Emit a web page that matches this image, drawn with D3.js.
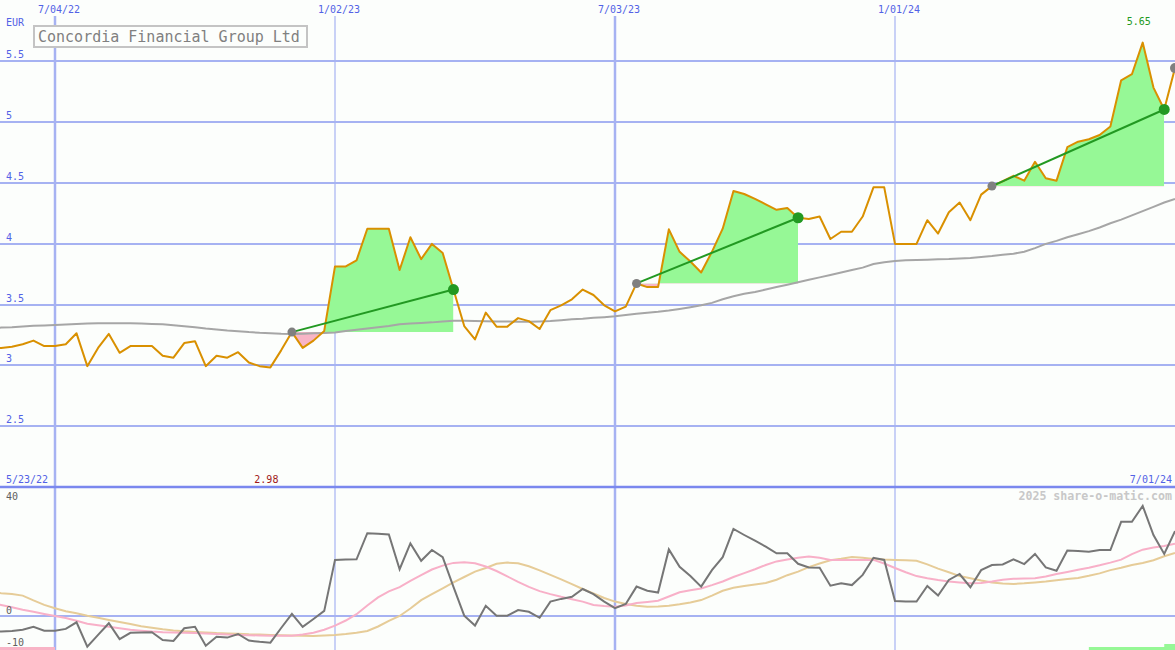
<!DOCTYPE html>
<html><head><meta charset="utf-8">
<script src="https://cdn.jsdelivr.net/npm/d3@7"></script>
<style>
html,body{margin:0;padding:0;background:#fcfefc;overflow:hidden;}
svg{display:block;}
text{font-family:"DejaVu Sans Mono","Liberation Mono",monospace;}
</style></head><body>
<svg id="chart" width="1175" height="650"></svg>
<script>
// ---------- data ----------
const title = "Concordia Financial Group Ltd";
const currency = "EUR";
const firstWeek = "2022-05-23";
const lastWeek = "2024-07-01";
const price = [3.14,3.14,3.15,3.17,3.20,3.155,3.155,3.17,3.26,2.99,
  3.14,3.255,3.10,3.155,3.155,3.155,3.075,3.06,3.18,3.195,
  2.99,3.075,3.06,3.105,3.02,2.99,2.98,3.12,3.27,3.14,
  3.20,3.28,3.81,3.81,3.86,4.12,4.12,4.12,3.78,4.05,
  3.87,3.995,3.92,3.62,3.32,3.21,3.43,3.315,3.315,3.385,
  3.36,3.295,3.45,3.49,3.54,3.62,3.575,3.49,3.44,3.48,
  3.67,3.64,3.64,4.115,3.93,3.85,3.76,3.93,4.12,4.43,
  4.405,4.365,4.32,4.275,4.29,4.21,4.20,4.22,4.035,4.095,
  4.095,4.22,4.46,4.46,3.995,3.995,3.995,4.19,4.08,4.255,
  4.335,4.19,4.40,4.47,4.51,4.555,4.515,4.67,4.535,4.515,
  4.79,4.835,4.855,4.89,4.96,5.34,5.39,5.65,5.28,5.10,5.44];
const movingAvg = [3.305,3.307,3.31,3.316,3.322,3.325,3.328,3.332,3.336,3.34,
  3.342,3.343,3.343,3.342,3.34,3.337,3.334,3.327,3.318,3.31,
  3.30,3.292,3.284,3.278,3.27,3.264,3.26,3.256,3.255,3.257,
  3.26,3.263,3.267,3.28,3.29,3.30,3.31,3.32,3.335,3.34,
  3.345,3.35,3.357,3.363,3.363,3.362,3.36,3.358,3.357,3.356,
  3.355,3.358,3.362,3.368,3.375,3.38,3.387,3.393,3.40,3.41,
  3.42,3.43,3.437,3.447,3.46,3.475,3.49,3.51,3.54,3.565,
  3.585,3.60,3.62,3.64,3.66,3.68,3.70,3.72,3.74,3.76,
  3.78,3.80,3.83,3.845,3.855,3.86,3.862,3.865,3.868,3.87,
  3.875,3.88,3.888,3.895,3.905,3.915,3.93,3.96,3.995,4.02,
  4.05,4.075,4.10,4.13,4.165,4.195,4.23,4.265,4.30,4.335,4.365];
const oscDark = [-5.2,-5.2,-5.0,-4.6,-3.6,-4.9,-4.9,-4.3,-2.1,-10.2,
  -6.3,-2.4,-7.7,-5.6,-5.5,-5.4,-8.0,-8.3,-4.1,-3.6,
  -9.9,-6.9,-7.2,-6.0,-8.2,-8.6,-8.9,-4.0,0.7,-3.6,
  -1.0,1.7,18.7,18.8,18.9,27.6,27.4,27.2,15.6,24.2,
  18.4,22.0,19.6,9.7,0.1,-3.2,3.4,0.1,0.1,2.0,
  1.4,-0.6,4.8,5.7,6.4,9.0,7.3,4.8,2.6,4.0,
  9.8,8.4,7.8,22.2,16.4,13.3,9.8,15.3,19.6,29.0,
  27.0,25.1,23.1,20.9,20.9,17.4,16.2,16.1,10.1,10.9,
  10.3,13.7,19.4,18.7,5.0,4.8,4.8,10.0,6.8,12.0,
  14.0,9.6,15.3,17.0,17.2,18.9,17.3,20.7,16.2,15.1,
  21.8,21.7,21.4,22.0,22.0,31.4,31.4,36.7,27.0,20.7,28.3];
const oscPink = [4.3,3.7,2.9,2.1,1.4,0.7,0.0,-0.7,-1.6,-2.6,
  -3.1,-3.6,-4.1,-4.6,-4.9,-5.2,-5.4,-5.5,-5.6,-5.7,
  -5.8,-6.0,-6.2,-6.3,-6.4,-6.5,-6.6,-6.6,-6.6,-6.2,
  -5.6,-4.6,-3.2,-1.5,0.6,3.5,6.2,8.2,9.6,11.7,
  13.6,15.5,16.8,17.7,17.9,17.6,16.5,15.0,13.2,11.4,
  9.7,8.3,7.3,6.4,5.6,4.8,3.7,3.3,3.1,3.5,
  4.3,4.7,5.1,6.5,7.9,8.6,9.2,10.3,11.5,13.0,
  14.3,15.6,17.0,18.2,18.8,19.4,19.8,19.4,18.7,18.7,
  18.7,18.7,18.7,17.5,16.0,14.6,13.3,12.6,12.0,11.5,
  11.2,10.9,11.0,11.5,12.1,12.4,12.5,12.6,13.2,14.0,
  14.7,15.4,16.1,16.9,17.8,18.8,20.6,22.1,22.8,23.3,24.1];
const oscTan = [8.0,7.6,7.3,6.8,5.2,3.7,2.6,1.6,0.9,0.1,
  -0.6,-1.3,-2.0,-2.7,-3.4,-3.9,-4.4,-4.8,-5.1,-5.3,
  -5.5,-5.7,-5.8,-5.9,-6.1,-6.2,-6.3,-6.4,-6.5,-6.6,
  -6.7,-6.5,-6.3,-6.0,-5.6,-5.0,-3.5,-1.6,0.0,2.5,
  5.3,7.3,9.2,11.2,13.0,14.8,16.0,17.4,17.8,17.6,
  16.6,15.2,13.7,12.2,10.6,9.0,7.5,6.0,4.8,4.0,
  3.4,3.1,3.2,3.4,3.9,4.5,5.3,6.8,8.4,9.4,
  10.0,10.5,11.0,12.1,13.6,14.8,16.3,17.5,18.6,19.1,
  19.7,19.4,19.0,18.8,18.7,18.6,18.4,17.2,15.8,14.6,
  13.3,12.6,11.8,11.2,10.8,10.7,10.9,11.2,11.5,11.9,
  12.3,12.7,13.4,14.2,15.3,16.1,17.0,17.7,18.6,19.9,21.0];
const priceTicks = [2.5,3,3.5,4,4.5,5,5.5];
const oscTicks = [40,0,-10];
const dateTicks = ["2022-07-04","2023-01-02","2023-07-03","2024-01-01"];
const dateTickLabels = ["7/04/22","1/02/23","7/03/23","1/01/24"];
const majorDateTicks = ["2022-07-04","2023-07-03"];
const trendStartIdx = [28,60,93];
const trendEndIdx = [43,75,109];
const signalFrom = ["2022-05-23","2024-05-06","2024-06-24"];
const signalTo   = ["2022-07-04","2024-07-01","2024-07-01"];
const signalKind = ["down","up","up2"];
const watermark = "2025 share-o-matic.com";

// ---------- setup ----------
const W = 1175, H = 650;
const parse = d3.utcParse("%Y-%m-%d");
const dates = d3.utcMonday.range(parse(firstWeek), d3.utcDay.offset(parse(lastWeek), 1));
const svg = d3.select("#chart");

const x = d3.scaleUtc().domain([parse("2022-07-04"), parse("2024-01-01")]).range([55, 895]);
const yP = d3.scaleLinear().domain([2, 6]).range([486.6, 0]);
const yO = d3.scaleLinear().domain([0, 40]).range([616, 496]);

const gridC = "#a6b2f2", labC = "#5262e6";

svg.append("rect").attr("width", W).attr("height", H).attr("fill", "#fcfefc");

// horizontal price grid via axis
const gy = svg.append("g").attr("transform", "translate(0,0)")
  .call(d3.axisRight(yP).tickValues(priceTicks).tickSize(W).tickFormat(d3.format("")));
gy.select(".domain").remove();
gy.selectAll(".tick line").attr("stroke", gridC).attr("stroke-width", 2).attr("shape-rendering", "crispEdges");
gy.selectAll(".tick text").attr("x", 6).attr("dy", -3).attr("text-anchor", "start")
  .attr("dominant-baseline", "auto").attr("fill", labC).attr("font-size", 10)
  .attr("font-family", "DejaVu Sans Mono, monospace");

// vertical date grid
const gx = svg.append("g")
  .call(d3.axisTop(x).tickValues(dateTicks.map(parse)).tickSize(0).tickFormat((d, i) => dateTickLabels[i]));
gx.select(".domain").remove();
gx.selectAll(".tick text").attr("y", 13).attr("dy", 0).attr("dx", 3.5).attr("fill", labC)
  .attr("font-size", 10).attr("font-family", "DejaVu Sans Mono, monospace");
svg.append("g").selectAll("line").data(dateTicks).join("line")
  .attr("x1", d => Math.round(x(parse(d)))).attr("x2", d => Math.round(x(parse(d))))
  .attr("y1", 16).attr("y2", H)
  .attr("stroke", gridC).attr("stroke-width", d => majorDateTicks.includes(d) ? 2.5 : 1.2);

// oscillator panel grid
svg.append("line").attr("x1", 0).attr("x2", W).attr("y1", yO(0)).attr("y2", yO(0))
  .attr("stroke", gridC).attr("stroke-width", 2);
svg.append("line").attr("x1", 0).attr("x2", W).attr("y1", 487).attr("y2", 487)
  .attr("stroke", "#7a88ee").attr("stroke-width", 2.5);

// ---------- trend fills ----------
const defs = svg.append("defs");
trendStartIdx.forEach((s, k) => {
  const e = trendEndIdx[k];
  const base = price[s];
  const x0 = x(dates[s]), x1 = x(dates[e]);
  defs.append("clipPath").attr("id", "up" + k).append("rect")
    .attr("x", x0).attr("y", 0).attr("width", x1 - x0).attr("height", yP(base));
  defs.append("clipPath").attr("id", "dn" + k).append("rect")
    .attr("x", x0).attr("y", yP(base)).attr("width", x1 - x0).attr("height", 487 - yP(base));
  const seg = d3.range(s, e + 1);
  const area = d3.area().x(i => x(dates[i])).y0(yP(base)).y1(i => yP(price[i]));
  svg.append("path").datum(seg).attr("d", area).attr("fill", "#96f896").attr("clip-path", `url(#up${k})`);
  svg.append("path").datum(seg).attr("d", area).attr("fill", "#f8b4c6").attr("clip-path", `url(#dn${k})`);
});

// ---------- lines ----------
const idx = d3.range(dates.length);
svg.append("path").datum(idx)
  .attr("d", d3.line().x(i => x(dates[i])).y(i => yP(movingAvg[i])))
  .attr("fill", "none").attr("stroke", "#a6a6a6").attr("stroke-width", 2);
svg.append("path").datum(idx)
  .attr("d", d3.line().x(i => x(dates[i])).y(i => yP(price[i])))
  .attr("fill", "none").attr("stroke", "#d99000").attr("stroke-width", 2).attr("stroke-linejoin", "round");

trendStartIdx.forEach((s, k) => {
  const e = trendEndIdx[k];
  svg.append("line").attr("x1", x(dates[s])).attr("y1", yP(price[s]))
    .attr("x2", x(dates[e])).attr("y2", yP(price[e]))
    .attr("stroke", "#229922").attr("stroke-width", 2);
  svg.append("circle").attr("cx", x(dates[s])).attr("cy", yP(price[s])).attr("r", 4.5).attr("fill", "#808080");
  svg.append("circle").attr("cx", x(dates[e])).attr("cy", yP(price[e])).attr("r", 5.5).attr("fill", "#229922");
});
const last = dates.length - 1;
svg.append("circle").attr("cx", x(dates[last])).attr("cy", yP(price[last])).attr("r", 5).attr("fill", "#808080");

// oscillator lines
const oscLine = arr => d3.line().x(i => x(dates[i])).y(i => yO(arr[i]));
svg.append("path").datum(idx).attr("d", oscLine(oscTan)).attr("fill", "none").attr("stroke", "#e6cc98").attr("stroke-width", 2);
svg.append("path").datum(idx).attr("d", oscLine(oscPink)).attr("fill", "none").attr("stroke", "#f8b0c8").attr("stroke-width", 2);
svg.append("path").datum(idx).attr("d", oscLine(oscDark)).attr("fill", "none").attr("stroke", "#767676").attr("stroke-width", 2);

// signal bars at bottom
signalFrom.forEach((f, k) => {
  const kind = signalKind[k];
  const top = kind === "up2" ? 644 : 647;
  svg.append("rect").attr("x", Math.max(0, x(parse(f)))).attr("y", top)
    .attr("width", x(parse(signalTo[k])) + (kind === "down" ? 0 : 10) - Math.max(0, x(parse(f))))
    .attr("height", H - top).attr("fill", kind === "down" ? "#f8b4c6" : "#96f896");
});

// oscillator labels
svg.selectAll(".olab").data(oscTicks).join("text").attr("class", "olab")
  .attr("x", 6).attr("y", d => d === 40 ? yO(d) + 4 : (d === 0 ? yO(d) - 2 : 646))
  .attr("fill", "#606060").attr("font-size", 10).text(d => d);

// ---------- texts ----------
svg.append("text").attr("x", 6).attr("y", 26).attr("fill", labC).attr("font-size", 10).text(currency);
svg.append("text").attr("x", 6).attr("y", 483).attr("fill", labC).attr("font-size", 10)
  .text(d3.utcFormat("%-m/%d/%y")(dates[0]));
svg.append("text").attr("x", 1172).attr("y", 483).attr("text-anchor", "end").attr("fill", labC).attr("font-size", 10)
  .text(d3.utcFormat("%-m/%d/%y")(dates[last]));

const minI = d3.minIndex(price), maxI = d3.maxIndex(price);
svg.append("text").attr("x", x(dates[minI]) - 4).attr("y", 483).attr("text-anchor", "middle")
  .attr("fill", "#a01818").attr("font-size", 10).text(price[minI].toFixed(2));
svg.append("text").attr("x", x(dates[maxI]) - 4).attr("y", 25).attr("text-anchor", "middle")
  .attr("fill", "#229922").attr("font-size", 10).text(price[maxI].toFixed(2));

svg.append("text").attr("x", 1172).attr("y", 500).attr("text-anchor", "end")
  .attr("fill", "#c8c8c8").attr("font-size", 11.6).attr("font-weight", "bold").text(watermark);

// title box
svg.append("rect").attr("x", 34).attr("y", 26).attr("width", 273).attr("height", 21)
  .attr("fill", "#fcfefc").attr("stroke", "#c4c4c4").attr("stroke-width", 2);
svg.append("text").attr("x", 38).attr("y", 42).attr("fill", "#808080").attr("font-size", 15).text(title);
</script>
</body></html>
